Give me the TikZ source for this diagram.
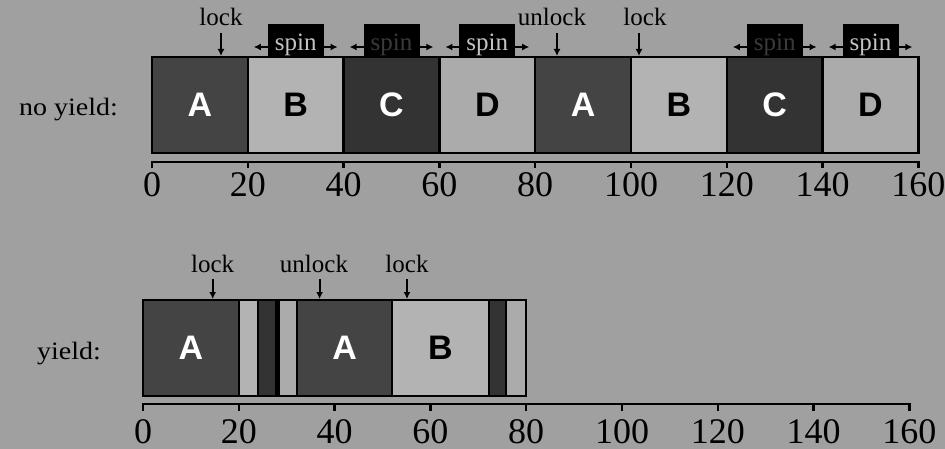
\documentclass[tikz,border=0pt]{standalone}
\usepackage{fontspec}
\setmainfont{Liberation Serif}
\newfontfamily\widefont[FakeStretch=1.12]{Liberation Serif}
\newfontfamily\boxfont{Liberation Sans}
\usetikzlibrary{arrows.meta}
\definecolor{bgc}{HTML}{A0A0A0}
\definecolor{colA}{HTML}{444444}
\definecolor{colB}{HTML}{B3B3B3}
\definecolor{colC}{HTML}{333333}
\definecolor{colD}{HTML}{ABABAB}
\definecolor{spinlight}{HTML}{C4C4C4}
\definecolor{spindark}{HTML}{3A3A3A}
\begin{document}
\begin{tikzpicture}[x=1pt,y=-1pt,
  seg/.style={draw=black, line width=2.5pt, minimum height=96pt, inner sep=0pt,
    font=\boxfont\bfseries\fontsize{34}{34}\selectfont},
  spinbox/.style={fill=black, minimum width=56pt, minimum height=33pt, inner sep=0pt},
  spintext/.style={inner sep=0pt, font=\fontsize{25}{25}\selectfont},
  spinarrow/.style={line width=2pt, {Latex[length=7pt,width=7pt]}-{Latex[length=7pt,width=7pt]}},
  lbl/.style={inner xsep=0pt, inner ysep=7pt, anchor=base, font=\fontsize{25}{25}\selectfont},
  lockarrow/.style={line width=2pt, -{Latex[length=7pt,width=7pt]}},
  rowlbl/.style={inner sep=0pt, anchor=base east, font=\widefont\fontsize{25}{25}\selectfont},
  num/.style={inner sep=0pt, anchor=base, font=\fontsize{36}{36}\selectfont},
  axisline/.style={line width=2.5pt}
]
\useasboundingbox (0,0) rectangle (945,449);
\fill[bgc] (0,0) rectangle (945,449);

% ---------- top row: no yield ----------
\node[rowlbl] (lblnoyield) at (118,116) {no yield:};
\foreach \i/\L/\c/\t in {0/A/colA/white,1/B/colB/black,2/C/colC/white,3/D/colD/black,
                         4/A/colA/white,5/B/colB/black,6/C/colC/white,7/D/colD/black}{
  \node[seg, fill=\c, text=\t, minimum width=95.8pt] (top\i) at ({152+4.79*(10+20*\i)},105) {\L};
}
% spin markers
\foreach \i/\tc in {1/spinlight,2/spindark,3/spinlight,6/spindark,7/spinlight}{
  \coordinate (sl\i) at ({152+95.8*\i+6},47);
  \coordinate (sr\i) at ({152+95.8*\i+95.8-6},47);
  \draw[spinarrow] (sl\i) -- (sr\i);
  \node[spinbox] (sb\i) at ({152+95.8*\i+47.9},40.5) {};
  \node[spintext, text=\tc, anchor=base] (st\i) at ({152+95.8*\i+47.9},51) {spin};
}
% lock / unlock markers
\node[lbl] (tl1) at (221,26) {lock};
\node[lbl] (tl2) at (552,26) {unlock};
\node[lbl] (tl3) at (645,26) {lock};
\coordinate (tl1t) at (221,56);
\coordinate (tl2t) at (557,56);
\coordinate (tl3t) at (639,56);
\draw[lockarrow] (tl1.south) -- (tl1t);
\draw[lockarrow] (tl2.south -| tl2t) -- (tl2t);
\draw[lockarrow] (tl3.south -| tl3t) -- (tl3t);
% axis
\coordinate (tax0) at (152,162);
\coordinate (tax160) at ({152+4.79*160},162);
\draw[axisline] ([yshift=-6.5pt]tax0) -- (tax0) -- (tax160) -- ([yshift=-6.5pt]tax160);
\foreach \v in {0,20,...,160}{
  \coordinate (tt\v) at ({152+4.79*\v},162);
  \draw[axisline] (tt\v) -- ++(0,6.5);
  \node[num] (tn\v) at ({152+4.79*\v},197) {\v};
}

% ---------- bottom row: yield ----------
\node[rowlbl] (lblyield) at (101,359) {yield:};
\foreach \n/\a/\b/\L/\c/\t in {b1/0/20/A/colA/white, b2/20/24//colB/black, b3/24/27.8//colC/white,
    b4/27.8/28.4//black/white, b5/28.4/32.2//colD/black, b6/32.2/52/A/colA/white,
    b7/52/72.2/B/colB/black, b8/72.2/75.8//colC/white, b9/75.8/80//colD/black}{
  \node[seg, fill=\c, text=\t, minimum width={4.79*(\b-\a)*1pt}] (\n) at ({143+4.79*(\a+\b)/2},348) {\L};
}
\node[lbl] (bl1) at (212.7,272) {lock};
\node[lbl] (bl2) at (314,272) {unlock};
\node[lbl] (bl3) at (407,272) {lock};
\coordinate (bl1t) at (212.7,299);
\coordinate (bl2t) at (319.6,299);
\coordinate (bl3t) at (407,299);
\draw[lockarrow] (bl1.south) -- (bl1t);
\draw[lockarrow] (bl2.south -| bl2t) -- (bl2t);
\draw[lockarrow] (bl3.south) -- (bl3t);
% axis
\coordinate (bax0) at (143,404);
\coordinate (bax160) at ({143+4.79*160},404);
\draw[axisline] ([yshift=-6.5pt]bax0) -- (bax0) -- (bax160) -- ([yshift=-6.5pt]bax160);
\foreach \v in {0,20,...,160}{
  \coordinate (bt\v) at ({143+4.79*\v},404);
  \draw[axisline] (bt\v) -- ++(0,6.5);
  \node[num] (bn\v) at ({143+4.79*\v},443) {\v};
}
\end{tikzpicture}
\end{document}
